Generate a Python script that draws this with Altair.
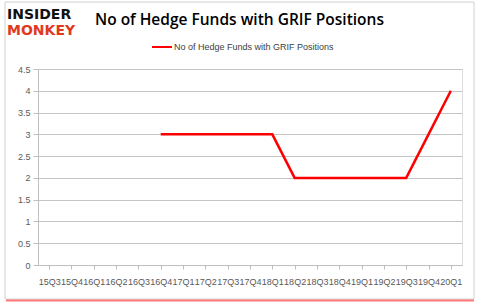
import altair as alt
import pandas as pd

quarters = ["15Q3", "15Q4", "16Q1", "16Q2", "16Q3", "16Q4", "17Q1", "17Q2", "17Q3", "17Q4",
            "18Q1", "18Q2", "18Q3", "18Q4", "19Q1", "19Q2", "19Q3", "19Q4", "20Q1"]
funds = [None, None, None, None, None, 3, 3, 3, 3, 3,
         3, 2, 2, 2, 2, 2, 2, 3, 4]
y_ticks = [0, 0.5, 1, 1.5, 2, 2.5, 3, 3.5, 4, 4.5]
title_text = "No of Hedge Funds with GRIF Positions"
legend_text = "No of Hedge Funds with GRIF Positions"

df = pd.DataFrame({"q": quarters, "v": funds})

W, H = 424, 196
PL, PT = 38, 69

x_scale = alt.Scale(domain=quarters, paddingInner=0, paddingOuter=0)
y_scale = alt.Scale(domain=[0, 4.5], nice=False)

line = alt.Chart(df).mark_line(color="#ff0000", strokeWidth=2.5).encode(
    x=alt.X("q:N", scale=x_scale, sort=quarters, title=None,
            axis=alt.Axis(labelAngle=0, bandPosition=0, labelAlign="center",
                          labelFontSize=9, labelColor="#595959", labelFont="Liberation Sans",
                          domainColor="#bfbfbf", tickColor="#bfbfbf", tickSize=4,
                          labelPadding=8, grid=False, labelOverlap=False)),
    y=alt.Y("v:Q", scale=y_scale, title=None,
            axis=alt.Axis(values=y_ticks, format=".1~f", labelFontSize=9, labelColor="#595959",
                          labelFont="Liberation Sans", domainColor="#bfbfbf", tickColor="#bfbfbf",
                          tickSize=5, gridColor="#c4c4c4", labelPadding=3)),
)

# frame around whole chart
frame = alt.Chart(pd.DataFrame({"a": [0]})).mark_rect(
    fillOpacity=0, stroke="#d0d0d0", strokeWidth=1).encode(
    x=alt.value(5 - PL), x2=alt.value(474 - PL), y=alt.value(2 - PT), y2=alt.value(299 - PT))
shadow = alt.Chart(pd.DataFrame({"a": [0]})).mark_rule(color="#ff4040", strokeWidth=2, opacity=0.7).encode(
    x=alt.value(6 - PL), x2=alt.value(474 - PL), y=alt.value(300.5 - PT))

title = alt.Chart(pd.DataFrame({"t": [title_text]})).mark_text(
    align="left", baseline="middle", fontSize=15.5, font="Open Sans", fontWeight=600, color="#000000").encode(
    text="t:N", x=alt.value(95 - PL), y=alt.value(20 - PT))

logo1 = alt.Chart(pd.DataFrame({"t": ["INSIDER"]})).mark_text(
    align="left", baseline="middle", fontSize=14, font="DejaVu Sans", fontWeight="bold", color="#111111").encode(
    text="t:N", x=alt.value(7 - PL), y=alt.value(15 - PT))
logo2 = alt.Chart(pd.DataFrame({"t": ["MONKEY"]})).mark_text(
    align="left", baseline="middle", fontSize=14, font="DejaVu Sans", fontWeight="bold", color="#e03a1e").encode(
    text="t:N", x=alt.value(7 - PL), y=alt.value(31 - PT))

leg_line = alt.Chart(pd.DataFrame({"a": [0]})).mark_rule(color="#ff0000", strokeWidth=2).encode(
    x=alt.value(152 - PL), x2=alt.value(172 - PL), y=alt.value(47 - PT))
leg_text = alt.Chart(pd.DataFrame({"t": [legend_text]})).mark_text(
    align="left", baseline="middle", fontSize=9, font="Liberation Sans", color="#404040").encode(
    text="t:N", x=alt.value(174 - PL), y=alt.value(47 - PT))

chart = alt.layer(frame, shadow, line, title, logo1, logo2, leg_line, leg_text).properties(
    width=W, height=H,
    autosize=alt.AutoSizeParams(type="none"),
    padding={"left": PL, "top": PT, "right": 479 - PL - W, "bottom": 307 - PT - H},
).configure_view(stroke=None).configure(background="white")

chart.save("out.html", embed_options={"renderer": "svg", "actions": False})
